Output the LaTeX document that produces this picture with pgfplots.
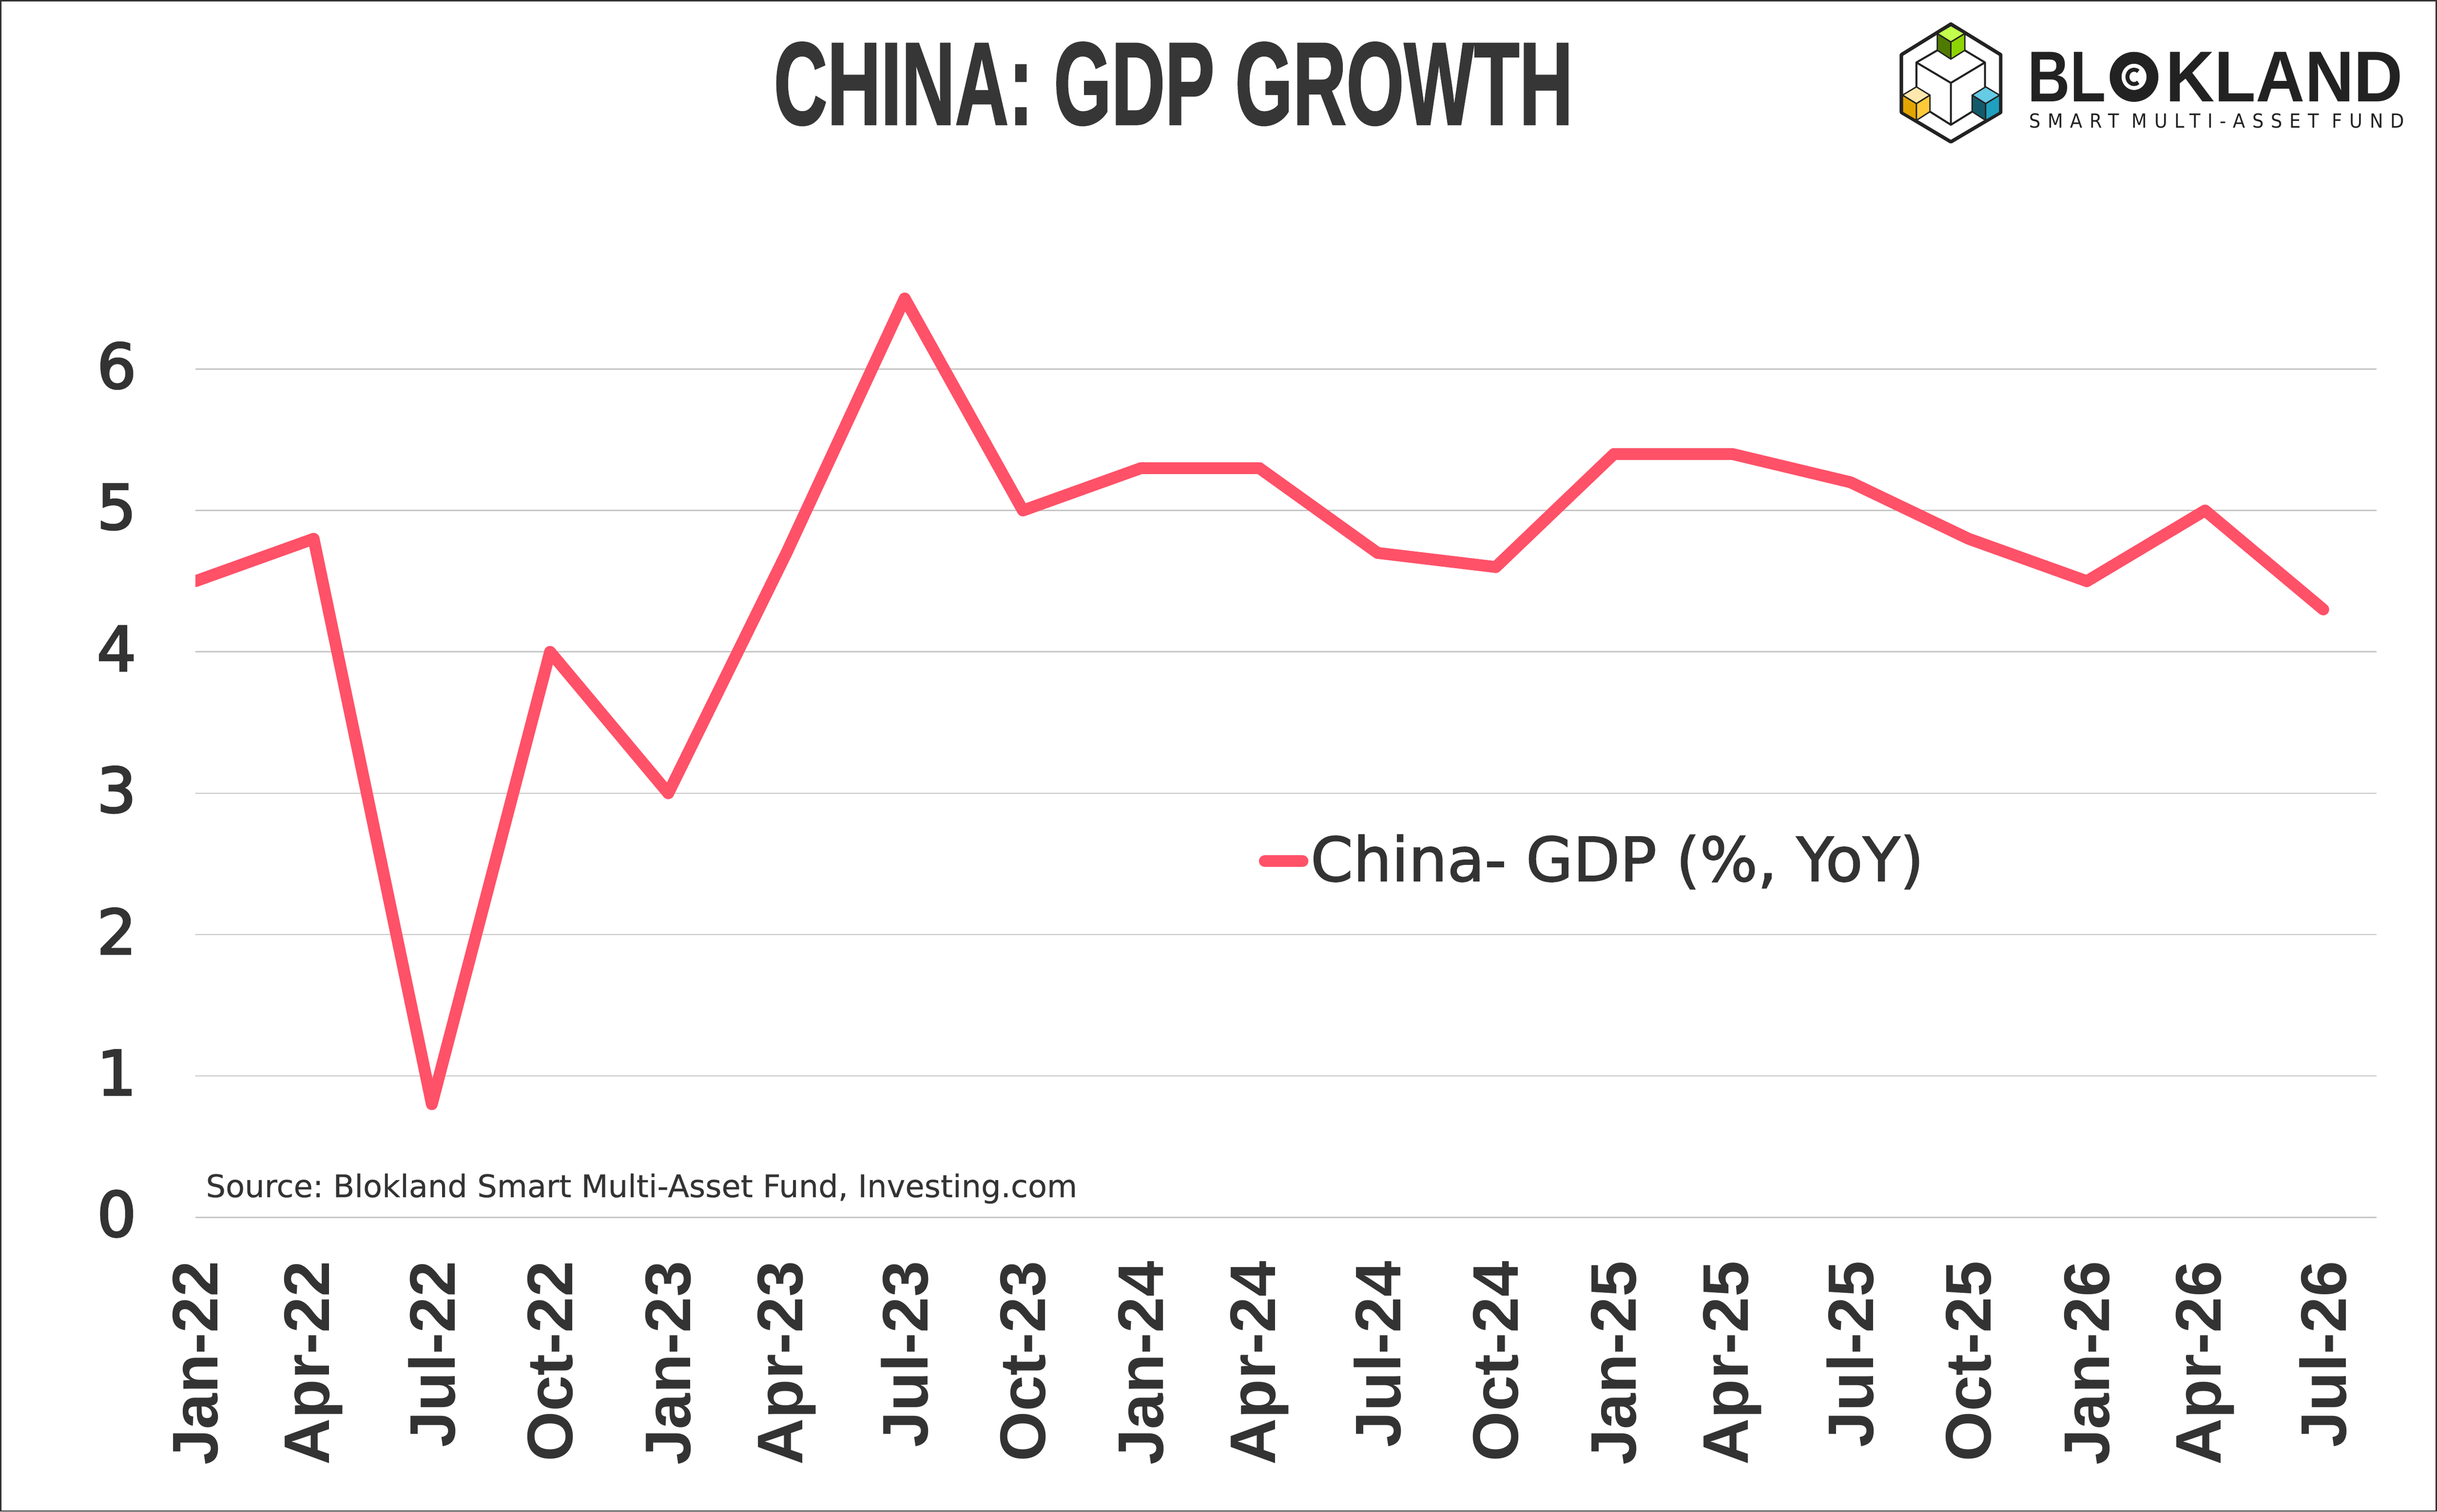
\documentclass[border=0pt]{standalone}
\usepackage{fontspec}
\usepackage{pgfplots}
\pgfplotsset{compat=1.18}
\setmainfont{Liberation Sans}
\newfontfamily\dvs{DejaVu Sans}[FakeBold=0.3]
\newfontfamily\dvmed{DejaVu Sans}[FakeBold=3]
\newfontfamily\dvleg{DejaVu Sans}[FakeBold=1.6]
\newfontfamily\ttlfont{Liberation Sans Bold}[FakeBold=1.5]
\definecolor{txt}{HTML}{333333}
\definecolor{ttl}{HTML}{363636}
\definecolor{logok}{HTML}{222222}
\definecolor{linec}{HTML}{FF5168}
\definecolor{gridc}{HTML}{C6C6C6}
\definecolor{gtop}{HTML}{C3FF4D}
\definecolor{gleft}{HTML}{4E7A00}
\definecolor{gright}{HTML}{8ED400}
\definecolor{ytop}{HTML}{FFE8AE}
\definecolor{yleft}{HTML}{E2A500}
\definecolor{yright}{HTML}{FFCA3A}
\definecolor{btop}{HTML}{66CBE5}
\definecolor{bleft}{HTML}{135B6B}
\definecolor{bright}{HTML}{20A0BF}
\frenchspacing
\begin{document}
\begin{tikzpicture}
\path[use as bounding box] (0,0) rectangle (556.2bp,345.1bp);
\fill[white] (0,0) rectangle (556.2bp,345.1bp);
\begin{axis}[
  at={(44.6bp,67.2bp)}, anchor=south west,
  x=26.98bp, y=32.27bp,
  xmin=0, xmax=18.45, ymin=0, ymax=7,
  axis line style={draw=none},
  major tick length=0pt,
  ytick={0,1,2,3,4,5,6},
  yticklabels={0,1,2,3,4,5,6},
  xtick={0,1,...,18},
  xticklabels={Jan-22,Apr-22,Jul-22,Oct-22,Jan-23,Apr-23,Jul-23,Oct-23,Jan-24,Apr-24,Jul-24,Oct-24,Jan-25,Apr-25,Jul-25,Oct-25,Jan-26,Apr-26,Jul-26},
  ymajorgrids,
  grid style={gridc, line width=0.3bp},
  /pgf/number format/assume math mode=true,
  yticklabel style={font=\dvmed\fontsize{14.1bp}{16bp}\selectfont, text=txt, anchor=east, inner sep=0pt, xshift=-13.3bp, yshift=0.8bp},
  xticklabel style={font=\bfseries\fontsize{14.7bp}{17bp}\selectfont, text=txt, yshift=-9.8bp, rotate=90, anchor=east, inner sep=0pt},
  legend style={at={(0.4876,0.3599)}, anchor=west, draw=none, fill=none, inner sep=0pt, outer sep=0pt, nodes={inner sep=0pt}, font=\dvleg\fontsize{13.9bp}{16bp}\selectfont, text=txt},
  legend cell align=left,
  legend image code/.code={\draw[#1, line cap=round] (0bp,0bp) -- (8.6bp,0bp); \path (9.1bp,0bp);},
]
\addplot[color=linec, line width=2.7bp, line join=round, line cap=round] coordinates {
 (0,4.5) (1,4.8) (2,0.8) (3,4.0) (4,3.0) (5,4.7) (6,6.5) (7,5.0) (8,5.3) (9,5.3)
 (10,4.7) (11,4.6) (12,5.4) (13,5.4) (14,5.2) (15,4.8) (16,4.5) (17,5.0) (18,4.3)};
\addlegendentry{China- GDP (\%, YoY)}
\end{axis}
% source
\node[anchor=base west, inner sep=0pt, text=txt, font=\dvs\fontsize{7.1bp}{9bp}\selectfont] at (46.8bp,71.8bp) {Source: Blokland Smart Multi-Asset Fund, Investing.com};
% title
\node[inner sep=0pt, text=ttl] at (267.8bp,325.95bp) {\resizebox{182.4bp}{18.7bp}{\ttlfont CHINA: GDP GROWTH}};
% logo mark
\begin{scope}[shift={(425bp,342.1bp)}, x={(0.08367bp,0bp)}, y={(0bp,-0.03333bp)}, line join=round]
 \draw[logok, line width=0.8bp] (242,75)--(378,285)--(378,680)--(242,882)--(107,680)--(107,285)--cycle;
 \draw[logok, line width=0.45bp] (205,255)--(148,338)--(148,505) (148,338)--(242,478)--(335,338) (280,255)--(335,338)--(335,505) (242,478)--(242,765) (185,675)--(242,765)--(300,675);
 \filldraw[fill=gtop, draw=logok, line width=0.3bp] (242,85)--(280,140)--(242,198)--(205,140)--cycle;
 \filldraw[fill=gleft, draw=logok, line width=0.3bp] (205,140)--(242,198)--(242,315)--(205,255)--cycle;
 \filldraw[fill=gright, draw=logok, line width=0.3bp] (280,140)--(242,198)--(242,315)--(280,255)--cycle;
 \filldraw[fill=ytop, draw=logok, line width=0.3bp] (148,505)--(185,562)--(148,620)--(110,562)--cycle;
 \filldraw[fill=yleft, draw=logok, line width=0.3bp] (110,562)--(148,620)--(148,735)--(110,680)--cycle;
 \filldraw[fill=yright, draw=logok, line width=0.3bp] (148,620)--(185,562)--(185,675)--(148,735)--cycle;
 \filldraw[fill=btop, draw=logok, line width=0.3bp] (337,505)--(375,562)--(337,620)--(300,562)--cycle;
 \filldraw[fill=bleft, draw=logok, line width=0.3bp] (300,562)--(337,620)--(337,735)--(300,675)--cycle;
 \filldraw[fill=bright, draw=logok, line width=0.3bp] (337,620)--(375,562)--(375,680)--(337,735)--cycle;
\end{scope}
% logo text
\node[inner sep=0pt, text=logok] at (471.7bp,327.55bp) {\resizebox{17.8bp}{11.3bp}{\bfseries BL}};
\node[inner sep=0pt, text=logok] at (521.35bp,327.55bp) {\resizebox{54.1bp}{11.3bp}{\bfseries KLAND}};
\draw[logok, line width=2.7bp] (487.05bp,327.55bp) ellipse [x radius=4.2bp, y radius=4.35bp];
\draw[logok, line width=0.9bp] (488.01bp,328.81bp) arc[start angle=50, end angle=310, x radius=1.5bp, y radius=1.65bp];
\node[inner sep=0pt, text=logok] at (505.9bp,317.55bp) {\resizebox{85.6bp}{3.3bp}{\fontspec{DejaVu Sans}[LetterSpace=40]SMART MULTI-ASSET FUND}};
% frame
\draw[txt, line width=0.3bp] (0.15bp,0.15bp) rectangle (556.05bp,344.95bp);
\end{tikzpicture}
\end{document}
